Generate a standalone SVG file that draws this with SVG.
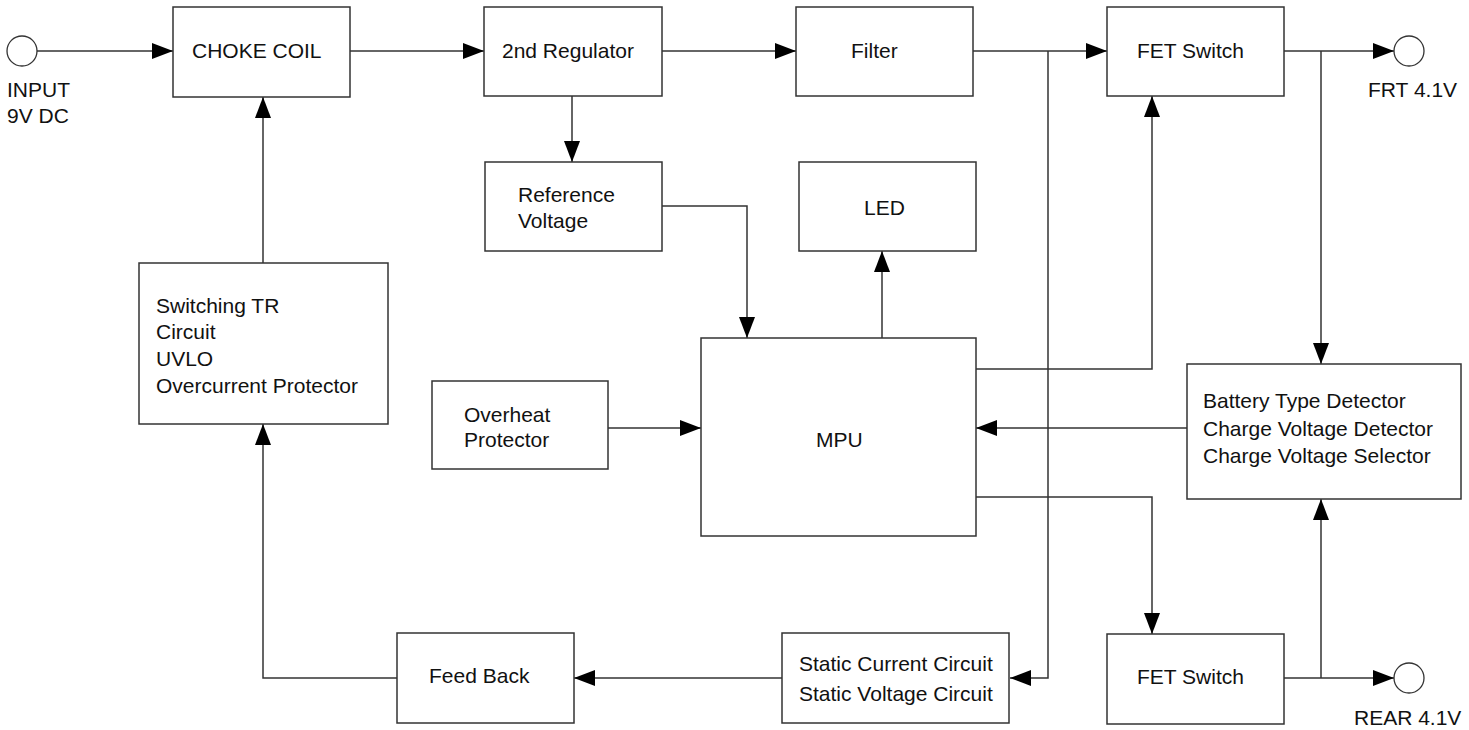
<svg xmlns="http://www.w3.org/2000/svg" width="1469" height="730" viewBox="0 0 1469 730">
<style>
.box{fill:#fff;stroke:#333;stroke-width:1.5}
.t{font-family:"Liberation Sans",Arial,sans-serif;font-size:21px;fill:#111}
.c{fill:none;stroke:#333;stroke-width:1.5}
.term{fill:#fff;stroke:#333;stroke-width:1.3}
</style>
<defs>
<marker id="ah" markerUnits="userSpaceOnUse" markerWidth="22" markerHeight="18" viewBox="0 0 22 18" refX="21" refY="9" orient="auto">
<path d="M0,1 L21,9 L0,17 Z" fill="#000"/>
</marker>
</defs>
<rect width="1469" height="730" fill="#fff"/>
<g id="connectors">
<path class="c" d="M37,51 H173" marker-end="url(#ah)"/>
<path class="c" d="M350,51 H484" marker-end="url(#ah)"/>
<path class="c" d="M662,51 H796" marker-end="url(#ah)"/>
<path class="c" d="M973,51 H1107" marker-end="url(#ah)"/>
<path class="c" d="M1284,51 H1394" marker-end="url(#ah)"/>
<path class="c" d="M572,96 V162" marker-end="url(#ah)"/>
<path class="c" d="M662,206 H747 V338" marker-end="url(#ah)"/>
<path class="c" d="M882,338 V251" marker-end="url(#ah)"/>
<path class="c" d="M608,428 H701" marker-end="url(#ah)"/>
<path class="c" d="M1187,428 H976" marker-end="url(#ah)"/>
<path class="c" d="M976,369 H1152 V96" marker-end="url(#ah)"/>
<path class="c" d="M976,497 H1152 V634" marker-end="url(#ah)"/>
<path class="c" d="M1321,51 V364" marker-end="url(#ah)"/>
<path class="c" d="M1284,678 H1394" marker-end="url(#ah)"/>
<path class="c" d="M1321,678 V499" marker-end="url(#ah)"/>
<path class="c" d="M1048,51 V678 H1010" marker-end="url(#ah)"/>
<path class="c" d="M782,678 H574" marker-end="url(#ah)"/>
<path class="c" d="M397,678 H263 V424" marker-end="url(#ah)"/>
<path class="c" d="M263,263 V97" marker-end="url(#ah)"/>
</g>
<g id="input">
<circle class="term" cx="22" cy="51" r="15"/>
<text class="t" x="7" y="97">INPUT</text>
<text class="t" x="7" y="123">9V DC</text>
</g>
<g id="frt">
<circle class="term" cx="1409" cy="51" r="15"/>
<text class="t" x="1368" y="97">FRT 4.1V</text>
</g>
<g id="rear">
<circle class="term" cx="1409" cy="678" r="15"/>
<text class="t" x="1354" y="725">REAR 4.1V</text>
</g>
<g id="choke">
<rect class="box" x="173" y="7" width="177" height="90"/>
<text class="t" x="192" y="58">CHOKE COIL</text>
</g>
<g id="reg2">
<rect class="box" x="484" y="7" width="178" height="89"/>
<text class="t" x="502" y="58">2nd Regulator</text>
</g>
<g id="filter">
<rect class="box" x="796" y="7" width="177" height="89"/>
<text class="t" x="851" y="58">Filter</text>
</g>
<g id="fet1">
<rect class="box" x="1107" y="7" width="177" height="89"/>
<text class="t" x="1137" y="58">FET Switch</text>
</g>
<g id="refv">
<rect class="box" x="485" y="162" width="177" height="89"/>
<text class="t" x="518" y="202">Reference</text>
<text class="t" x="518" y="228">Voltage</text>
</g>
<g id="led">
<rect class="box" x="799" y="162" width="177" height="89"/>
<text class="t" x="864" y="215">LED</text>
</g>
<g id="sw">
<rect class="box" x="139" y="263" width="249" height="161"/>
<text class="t" x="156" y="313">Switching TR</text>
<text class="t" x="156" y="339">Circuit</text>
<text class="t" x="156" y="366">UVLO</text>
<text class="t" x="156" y="393">Overcurrent Protector</text>
</g>
<g id="overheat">
<rect class="box" x="432" y="381" width="176" height="88"/>
<text class="t" x="464" y="422">Overheat</text>
<text class="t" x="464" y="447">Protector</text>
</g>
<g id="mpu">
<rect class="box" x="701" y="338" width="275" height="198"/>
<text class="t" x="816" y="447">MPU</text>
</g>
<g id="battery">
<rect class="box" x="1187" y="364" width="274" height="135"/>
<text class="t" x="1203" y="408">Battery Type Detector</text>
<text class="t" x="1203" y="436">Charge Voltage Detector</text>
<text class="t" x="1203" y="463">Charge Voltage Selector</text>
</g>
<g id="feedback">
<rect class="box" x="397" y="633" width="177" height="90"/>
<text class="t" x="429" y="683">Feed Back</text>
</g>
<g id="static">
<rect class="box" x="782" y="633" width="227" height="90"/>
<text class="t" x="799" y="671">Static Current Circuit</text>
<text class="t" x="799" y="701">Static Voltage Circuit</text>
</g>
<g id="fet2">
<rect class="box" x="1107" y="634" width="177" height="90"/>
<text class="t" x="1137" y="684">FET Switch</text>
</g>
</svg>
